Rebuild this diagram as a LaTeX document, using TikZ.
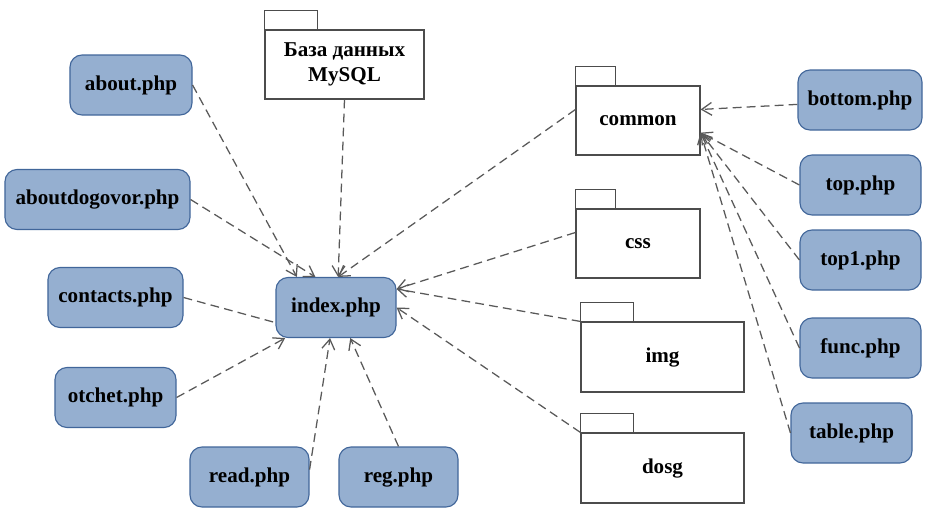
\documentclass[tikz,border=0pt]{standalone}
\usepackage{fontspec}
\setmainfont{Liberation Serif}
\usetikzlibrary{arrows.meta}
\definecolor{fileFill}{HTML}{95AFD0}
\definecolor{fileEdge}{HTML}{41669A}
\definecolor{depGray}{HTML}{595959}

\begin{document}
\begin{tikzpicture}[x=0.25mm, y=-0.25mm,
  file/.style={draw=fileEdge, line width=0.8pt, rounded corners=3mm, fill=fileFill,
    minimum height=15mm, inner sep=0pt, align=center, font=\fontsize{15}{17.5}\selectfont\bfseries},
  pkg/.style={draw=black!70, line width=0.8pt, fill=white, minimum height=17.25mm,
    inner sep=0pt, align=center, font=\fontsize{15}{17.5}\selectfont\bfseries},
  dep/.style={-{Straight Barb[length=2.5mm, width=3.2mm]}, depGray, line width=0.9pt,
    dash pattern=on 2.2mm off 1.3mm}
]
\useasboundingbox (0,0) rectangle (936,528);

% php files on the left and bottom
\node[file, minimum width=30.5mm] (about) at (131,85) {about.php};
\node[file, minimum width=46.25mm] (aboutdogovor) at (97.5,199.5) {aboutdogovor.php};
\node[file, minimum width=33.75mm] (contacts) at (115.5,297.5) {contacts.php};
\node[file, minimum width=30.25mm] (otchet) at (115.5,397.5) {otchet.php};
\node[file, minimum width=29.75mm] (read) at (249.5,477) {read.php};
\node[file, minimum width=29.75mm] (reg) at (398.5,477) {reg.php};
\node[file, minimum width=30mm] (index) at (336,307.5) {index.php};

% packages
\node[pkg, minimum width=39.75mm] (db) at (344.5,64.5) {База данных\\MySQL};
\node[pkg, minimum width=31mm] (common) at (638,120.5) {common};
\node[pkg, minimum width=31mm] (css) at (638,243.5) {css};
\node[pkg, minimum width=40.75mm, minimum height=17.5mm] (img) at (662.5,357) {img};
\node[pkg, minimum width=40.75mm, minimum height=17.5mm] (dosg) at (662.5,468) {dosg};
\foreach \n/\w in {db/53, common/40, css/40, img/53, dosg/53}
  \draw[black!70, line width=0.8pt] (\n.north west) rectangle ++(\w,-19);

% files used by common
\node[file, minimum width=31mm] (bottom) at (860,100) {bottom.php};
\node[file, minimum width=30.25mm] (top) at (860.5,185) {top.php};
\node[file, minimum width=30.25mm] (top1) at (860.5,260) {top1.php};
\node[file, minimum width=30.25mm] (func) at (860.5,348) {func.php};
\node[file, minimum width=30.25mm] (table) at (851.5,433) {table.php};

% dependencies
\draw[dep] (about.east) -- (index.142);
\draw[dep] (aboutdogovor.east) -- (index.124);
\draw[dep] (db.south) -- (index.86);
\draw[dep] (common.170) -- (index.86);
\draw[dep] (css.170) -- (index.17);
\draw[dep] (img.north west) -- (index.17);
\draw[dep] (dosg.north west) -- (index.east);
\draw[dep, -] (contacts.east) -- (index.194);
\draw[dep] (otchet.east) -- (index.211);
\draw[dep] (read.7) -- (index.259);
\draw[dep] (reg.north) -- (index.295);

\draw[dep] (bottom.184) -- (common.10);
\foreach \f in {top, top1, func, table}
  \draw[dep] (\f.west) -- (common.349);
\end{tikzpicture}
\end{document}
